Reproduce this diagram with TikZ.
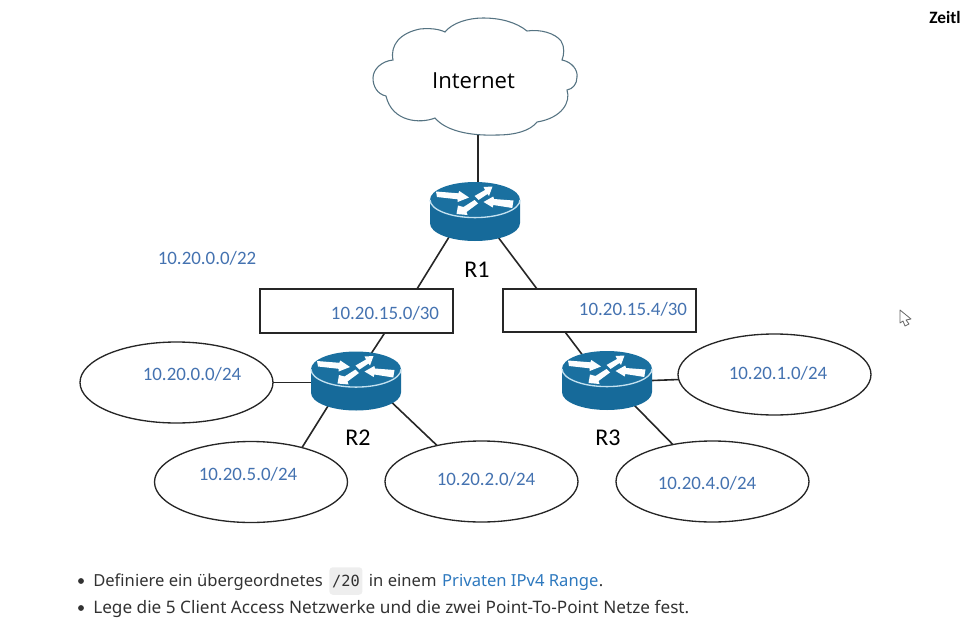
\documentclass[tikz,border=0pt]{standalone}
\usepackage{xcolor}
\usepackage{fontspec}
\setmainfont{Carlito}
\newfontfamily\cloudfont{Open Sans}
\newfontfamily\notefont{Noto Sans}
\newfontfamily\chipfont{DejaVu Sans Mono}
\usetikzlibrary{shapes.geometric, arrows.meta, positioning, calc}
\definecolor{netblue}{RGB}{68,114,176}
\definecolor{linkblue}{RGB}{45,120,190}
\definecolor{routertop}{RGB}{26,112,160}
\definecolor{routerside}{RGB}{22,106,154}
\definecolor{routerrim}{RGB}{195,225,240}
\definecolor{cloudline}{RGB}{85,115,130}
\definecolor{chipgrey}{RGB}{238,238,238}
\definecolor{notetext}{RGB}{50,50,50}
\tikzset{
  netbox/.style={rectangle, draw=black!85, minimum width=144.75pt, minimum height=33pt, inner sep=0pt, outer sep=0pt, line width=1pt},
  lan/.style={ellipse, draw=black!85, minimum width=144.75pt, minimum height=60.75pt, inner sep=0pt, outer sep=0pt, line width=1pt},
  hub/.style={ellipse, minimum width=67.5pt, minimum height=44.25pt, inner sep=0pt, outer sep=0pt},
  cable/.style={line width=1.2pt, color=black!85},
  subnet/.style={font=\fontsize{14.2}{16}\selectfont, text=netblue, inner sep=0pt},
  rname/.style={font=\fontsize{18}{20}\selectfont, inner sep=0pt},
  note/.style={font=\notefont\fontsize{12.9}{15}\selectfont, text=notetext, inner sep=0pt},
  notetop/.style={note, font=\notefont\fontsize{12.45}{15}\selectfont},
  dotmark/.style={circle, fill=notetext, minimum size=4.4pt, inner sep=0pt},
  routericon/.pic={
    \fill[routerside] (-45,-11.7) -- (-45,11.7) arc[start angle=180, end angle=0, x radius=45, y radius=17.8] -- (45,-11.7) -- cycle;
    \fill[routertop] (0,-11.7) ellipse[x radius=45, y radius=17.8];
    \draw[routerrim, line width=1pt] (-45,-11.7) arc[start angle=180, end angle=0, x radius=45, y radius=17.8];
    \fill[white!95!routerrim] (-39,-20) -- (-16.7,-18.2) -- (-15.7,-20.5) -- (-6,-14) -- (-17.3,-9.5) -- (-17.5,-12.2) -- (-38,-14.5) -- cycle;
    \fill[white!95!routerrim] (-0.5,-15.5) -- (10,-21.5) -- (8.5,-24.5) -- (17.5,-25) -- (14,-15.5) -- (12.5,-17.5) -- (3.5,-11.5) -- cycle;
    \fill[white!95!routerrim] (38.5,-11) -- (19,-12.5) -- (18.3,-15) -- (8.5,-9.5) -- (17.7,-4) -- (18.3,-6.5) -- (37.3,-3.5) -- cycle;
    \fill[white!95!routerrim] (-0.5,-11.5) -- (-11.5,-4.5) -- (-17,-6) -- (-18.5,2.5) -- (-7.5,3.5) -- (-8.5,0.5) -- (3,-8) -- cycle;
  }
}

\begin{document}
\begin{tikzpicture}[x=0.75pt, y=-0.75pt]
  \useasboundingbox (0,0) rectangle (961,625);

  % Internet cloud
  \draw[cloudline, line width=0.8pt, fill=white] (445,32)
    .. controls (452,23) and (468,18) .. (483,18)
    .. controls (500,18) and (516,22) .. (527,31)
    .. controls (540,29) and (555,33) .. (561,41)
    .. controls (565,47) and (564,55) .. (562,60)
    .. controls (572,62) and (578,70) .. (577,77)
    .. controls (577,84) and (573,89) .. (567,90)
    .. controls (571,102) and (562,118) .. (537,122)
    .. controls (530,131) and (515,135) .. (497,135)
    .. controls (470,136) and (446,131) .. (435,118)
    .. controls (420,124) and (392,122) .. (386,96)
    .. controls (377,94) and (373,86) .. (373,78)
    .. controls (373,69) and (382,61) .. (393,60)
    .. controls (390,45) and (400,33) .. (420,29)
    .. controls (430,28) and (439,29) .. (445,32) -- cycle;
  \node[font=\cloudfont\fontsize{16.6}{18}\selectfont, inner sep=0pt] (internet) at (473.5,81) {Internet};
  \coordinate (cloudfoot) at (478,135);

  % Routers
  \node[hub] (r1) at (475,211.5) {};
  \node[hub] (r2) at (356,381) {};
  \node[hub] (r3) at (607,380.5) {};
  \node[rname] (r1name) at (477,270) {R1};
  \node[rname] (r2name) at (358,438) {R2};
  \node[rname] (r3name) at (608,438) {R3};

  % Point-to-point boxes
  \node[netbox] (boxa) at (356.5,311) {};
  \node[netbox, minimum height=32.25pt] (boxb) at (599.5,310.5) {};

  % Client networks
  \node[lan] (lana) at (176.5,382.5) {};
  \node[lan] (lanb) at (251,482) {};
  \node[lan] (lanc) at (481.5,481.5) {};
  \node[lan] (lane) at (774.5,374.5) {};
  \node[lan] (land) at (712.5,481.5) {};

  % Cables
  \draw[cable] (cloudfoot) -- (cloudfoot |- r1.north);
  \draw[cable] (r1.224) -- (boxa.20.6);
  \draw[cable] (r1.312) -- (boxb.161.8);
  \draw[cable] (boxa.322.3) -- (r2.61);
  \draw[cable] (boxb.212.7) -- (r3.134);
  \draw[cable] (lana.east) -- (lana.east -| r2.west);
  \draw[cable] (r2.221.5) -- (lanb.34.5);
  \draw[cable] (r2.330) -- (lanc.141.4);
  \draw[cable] (r3.east) -- (lane.183);
  \draw[cable] (r3.318) -- (land.137.3);
  \foreach \hubname in {r1,r2,r3} \pic at (\hubname) {routericon};

  % Subnet labels
  \node[subnet] (sumnet) at (207,258) {10.20.0.0/22};
  \node[subnet] (boxatext) at (385,313) {10.20.15.0/30};
  \node[subnet] (boxbtext) at (633,309) {10.20.15.4/30};
  \node[subnet] (lanatext) at (192,374) {10.20.0.0/24};
  \node[subnet] (lanbtext) at (248,474) {10.20.5.0/24};
  \node[subnet] (lanctext) at (486,479) {10.20.2.0/24};
  \node[subnet] (lanetext) at (778,373) {10.20.1.0/24};
  \node[subnet] (landtext) at (707,483) {10.20.4.0/24};

  % Task notes
  \node[dotmark] (bulleta) at (81,581) {};
  \node[dotmark] (bulletb) at (81,608) {};
  \node[notetop, anchor=base west] (notea) at (93,586) {Definiere ein übergeordnetes};
  \node[note, anchor=base west, font=\chipfont\fontsize{11.5}{13}\selectfont, fill=chipgrey, rounded corners=2.5pt, inner xsep=2pt, inner ysep=5.5pt] (chip) at ($(notea.base east)+(6,0)$) {/20};
  \node[notetop, anchor=base west] (noteb) at ($(chip.base east)+(6,0)$) {in einem};
  \node[notetop, anchor=base west, text=linkblue] (notelink) at ($(noteb.base east)+(5,0)$) {Privaten IPv4 Range};
  \node[notetop, anchor=base west] (notedot) at (notelink.base east) {.};
  \node[note, anchor=base west] (notec) at (93,613) {Lege die 5 Client Access Netzwerke und die zwei Point-To-Point Netze fest.};

  % Cut-off title and mouse pointer
  \node[anchor=base west, font=\fontsize{13}{15}\selectfont\bfseries, inner sep=0pt] (zeit) at (929,23) {Zeitl};
  \draw[black!60, line width=0.6pt, fill=white, line join=round] (900,310) -- (900,323) -- (903,321) -- (905,326) -- (909,324) -- (906,320) -- (911,319) -- cycle;
\end{tikzpicture}
\end{document}
